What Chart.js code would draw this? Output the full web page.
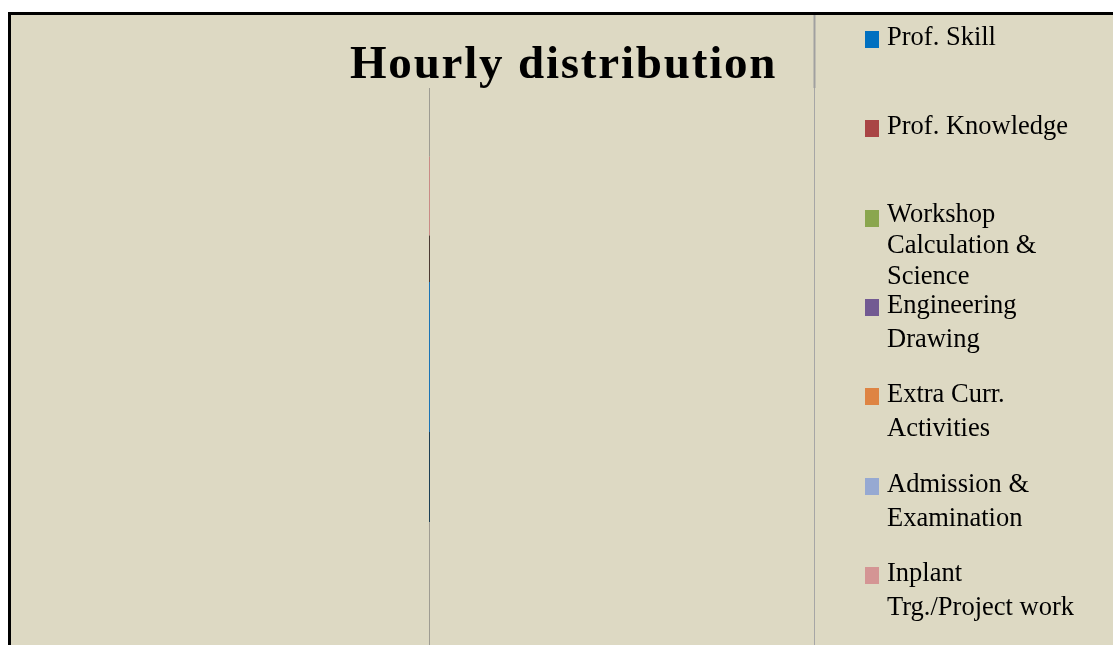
<!DOCTYPE html>
<html>
<head>
<meta charset="utf-8">
<script src="https://cdn.jsdelivr.net/npm/chart.js@4/dist/chart.umd.min.js"></script>
<style>
  html, body { margin: 0; padding: 0; background: #fff; overflow: hidden; width: 1113px; height: 645px; }
  #frame { position: absolute; left: 8px; top: 12px; width: 1200px; height: 720px;
           border-left: 3px solid #000; border-top: 3px solid #000; background: #DDD9C3; }
  #wrap { position: absolute; left: 0; top: 0; width: 1102px; height: 661px; }
  #title { position: absolute; left: 339px; top: 24px; font: bold 47px "Liberation Serif", serif;
           letter-spacing: 1.8px; line-height: 47px; white-space: nowrap; color: #000; }
  .item { position: absolute; left: 854px; font: 26.5px "Liberation Serif", serif; color: #000; line-height: 34px; white-space: nowrap; }
  .item .sw { position: absolute; left: 0; width: 14px; height: 17px; }
  .item .txt { margin-left: 22px; }
</style>
</head>
<body>
<div id="frame">
  <div id="wrap"><canvas id="myChart"></canvas></div>
  <div id="title">Hourly distribution</div>
  <div id="legend"></div>
</div>
<script>
// legend categories (multi-line labels as shown)
var categories = [
  ['Prof. Skill'],
  ['Prof. Knowledge'],
  ['Workshop', 'Calculation &', 'Science'],
  ['Engineering', 'Drawing'],
  ['Extra Curr.', 'Activities'],
  ['Admission &', 'Examination'],
  ['Inplant', 'Trg./Project work']
];
var categoryColors = ['#0070C0', '#A94545', '#8AA64E', '#725A92', '#DE8443', '#96A9D2', '#D49594'];

// the edge-on stack, bottom to top
var segmentNames = ['Rest (lower)', 'Prof. Skill (shade)', 'Prof. Skill', 'Prof. Knowledge (shade)', 'Inplant Trg.', 'Rest (upper)'];
var segmentValues = [17.2, 10.1, 16.8, 5.2, 8.8, 7.7];
var segmentColors = ['#9E9C92', '#1C3F55', '#1A74B5', '#4B3A33', '#C98B86', '#9E9C92'];

var yTicks = [10, 20, 30, 40, 50, 60];
var yMax = 65.8;

var beige = '#DDD9C3';
var clear = 'rgba(0,0,0,0)';

// legend
var legend = document.getElementById('legend');
categories.forEach(function(lines, i) {
  var item = document.createElement('div');
  item.className = 'item';
  item.style.top = (4 + 89.33 * i) + 'px';
  if (lines.length > 2) item.style.lineHeight = '31px';
  var sw = document.createElement('span');
  sw.className = 'sw';
  sw.style.background = categoryColors[i];
  sw.style.top = '12px';
  item.appendChild(sw);
  var txt = document.createElement('div');
  txt.className = 'txt';
  txt.innerHTML = lines.join('<br>');
  item.appendChild(txt);
  legend.appendChild(item);
});

var ctx = document.getElementById('myChart').getContext('2d');
var myChart = new Chart(ctx, {
  type: 'bar',
  data: {
    datasets: segmentValues.map(function(v, i) {
      return {
        label: segmentNames[i],
        data: [{ x: 0, y: v }],
        backgroundColor: segmentColors[i],
        borderWidth: 0,
        barThickness: 1,
        inflateAmount: 0,
        clip: false
      };
    })
  },
  options: {
    responsive: true,
    maintainAspectRatio: false,
    animation: false,
    layout: { padding: { left: 418.5, right: 299, top: 0, bottom: 0 } },
    plugins: {
      legend: { display: false },
      title: { display: false },
      tooltip: { enabled: false }
    },
    scales: {
      x: {
        type: 'linear',
        position: 'top',
        stacked: true,
        offset: false,
        min: 0,
        max: 1,
        ticks: { display: false, stepSize: 1 },
        border: { display: false },
        grid: {
          offset: false,
          lineWidth: 1,
          color: function(c) { return c.tick && c.tick.value === 1 ? '#A6A6A6' : clear; },
          tickColor: function(c) { return c.tick && c.tick.value === 1 ? '#A0A0A0' : clear; },
          tickWidth: 2,
          tickLength: 73
        }
      },
      y: {
        stacked: true,
        min: 0,
        max: yMax,
        afterBuildTicks: function(scale) {
          scale.ticks = yTicks.map(function(v) { return { value: v }; });
        },
        ticks: { display: false },
        border: { display: false },
        grid: {
          z: 1,
          lineWidth: 3,
          drawTicks: false,
          color: beige
        }
      }
    }
  }
});
</script>
</body>
</html>
